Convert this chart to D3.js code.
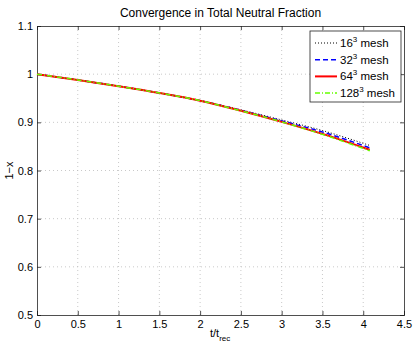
<!DOCTYPE html>
<html>
<head>
<meta charset="UTF-8">
<script src="https://cdn.jsdelivr.net/npm/d3@7"></script>
<style>
  body { margin: 0; background: white; }
  svg { font-family: "Liberation Sans", Arial, sans-serif; }
</style>
</head>
<body>
<div id="chart"></div>
<script>
// data
const tValues = [0, 0.5, 1.0, 1.5, 2.0, 2.5, 3.0, 3.5, 4.08];
const mesh16 = [1.000, 0.988, 0.975, 0.961, 0.945, 0.926, 0.905, 0.883, 0.852];
const mesh32 = [1.000, 0.988, 0.975, 0.961, 0.945, 0.925, 0.903, 0.880, 0.847];
const mesh64 = [1.000, 0.988, 0.975, 0.961, 0.945, 0.924, 0.901, 0.876, 0.843];
const mesh128 = [1.000, 0.988, 0.975, 0.961, 0.945, 0.924, 0.901, 0.875, 0.841];
const meshNames = ["16", "32", "64", "128"];
const xTicks = [0, 0.5, 1, 1.5, 2, 2.5, 3, 3.5, 4, 4.5];
const yTicks = [0.5, 0.6, 0.7, 0.8, 0.9, 1, 1.1];

const w = 415, h = 348;
const margin = {left: 37, right: 11, top: 26, bottom: 33};

const series = [
  {name: meshNames[0], values: mesh16, color: '#000000', dash: '1,2', width: 1},
  {name: meshNames[1], values: mesh32, color: '#0000ff', dash: '5,3', width: 1.5},
  {name: meshNames[2], values: mesh64, color: '#ff0000', dash: null, width: 2},
  {name: meshNames[3], values: mesh128, color: '#66ff00', dash: '5,2,1,2', width: 1.5}
];

const x = d3.scaleLinear().domain([0, 4.5]).range([margin.left, w - margin.right]);
const y = d3.scaleLinear().domain([0.5, 1.1]).range([h - margin.bottom, margin.top]);

const svg = d3.select('#chart').append('svg')
  .attr('width', w).attr('height', h);

// grid
svg.append('g').selectAll('line')
  .data(xTicks.slice(1, -1))
  .enter().append('line')
  .attr('x1', d => x(d)).attr('x2', d => x(d))
  .attr('y1', y(0.5)).attr('y2', y(1.1))
  .attr('stroke', '#bbb').attr('stroke-width', 0.8).attr('stroke-dasharray', '1,3');
svg.append('g').selectAll('line')
  .data(yTicks.slice(1, -1))
  .enter().append('line')
  .attr('y1', d => y(d)).attr('y2', d => y(d))
  .attr('x1', x(0)).attr('x2', x(4.5))
  .attr('stroke', '#bbb').attr('stroke-width', 0.8).attr('stroke-dasharray', '1,3');

// axes, matlab style ticks pointing inwards
const xAxis = d3.axisBottom(x).tickValues(xTicks).tickSize(-4).tickPadding(5)
  .tickFormat(d3.format('~g'));
const yAxis = d3.axisLeft(y).tickValues(yTicks).tickSize(-4).tickPadding(4)
  .tickFormat(d3.format('~g'));

svg.append('g').attr('transform', `translate(0,${h - margin.bottom})`).call(xAxis);
svg.append('g').attr('transform', `translate(${margin.left},0)`).call(yAxis);
svg.append('g').attr('transform', `translate(0,${margin.top})`)
  .call(d3.axisTop(x).tickValues(xTicks).tickSize(-4).tickFormat(''));
svg.append('g').attr('transform', `translate(${w - margin.right},0)`)
  .call(d3.axisRight(y).tickValues(yTicks).tickSize(-4).tickFormat(''));

svg.selectAll('.domain').attr('stroke', '#222').attr('stroke-width', 0.8);
svg.selectAll('.tick line').attr('stroke', '#222').attr('stroke-width', 0.8);
svg.selectAll('.tick text').style('font-size', '11px').attr('fill', '#000')
  .style('font-family', '"Liberation Sans", Arial, sans-serif');

// lines
const line = d3.line()
  .x((d, i) => x(tValues[i]))
  .y(d => y(d))
  .curve(d3.curveMonotoneX);

series.forEach(s => {
  svg.append('path')
    .datum(s.values)
    .attr('d', line)
    .attr('fill', 'none')
    .attr('stroke', s.color)
    .attr('stroke-width', s.width)
    .attr('stroke-dasharray', s.dash);
});

// title and labels
svg.append('text')
  .attr('x', (x(0) + x(4.5)) / 2).attr('y', 17)
  .attr('text-anchor', 'middle')
  .style('font-size', '12px')
  .text('Convergence in Total Neutral Fraction');

const xl = svg.append('text')
  .attr('x', 210).attr('y', 337)
  .style('font-size', '11px');
xl.append('tspan').text('t/t');
xl.append('tspan').attr('dy', 4).style('font-size', '8px').text('rec');

svg.append('text')
  .attr('transform', `translate(13,${(y(0.5) + y(1.1)) / 2}) rotate(-90)`)
  .attr('text-anchor', 'middle')
  .style('font-size', '11px')
  .text('1\u2212x');

// legend
const legend = svg.append('g').attr('transform', 'translate(310,31)');
legend.append('rect')
  .attr('width', 91).attr('height', 71)
  .attr('fill', 'white').attr('stroke', '#222').attr('stroke-width', 0.8);

series.forEach((s, i) => {
  const g = legend.append('g').attr('transform', `translate(0,${12 + i * 16.7})`);
  g.append('line')
    .attr('x1', 5).attr('x2', 27)
    .attr('stroke', s.color)
    .attr('stroke-width', s.width)
    .attr('stroke-dasharray', s.dash);
  const t = g.append('text').attr('x', 30).attr('y', 4).style('font-size', '11.5px');
  t.append('tspan').text(s.name);
  t.append('tspan').attr('dy', -5).style('font-size', '8px').text('3');
  t.append('tspan').attr('dy', 5).text(' mesh');
});
</script>
</body>
</html>
